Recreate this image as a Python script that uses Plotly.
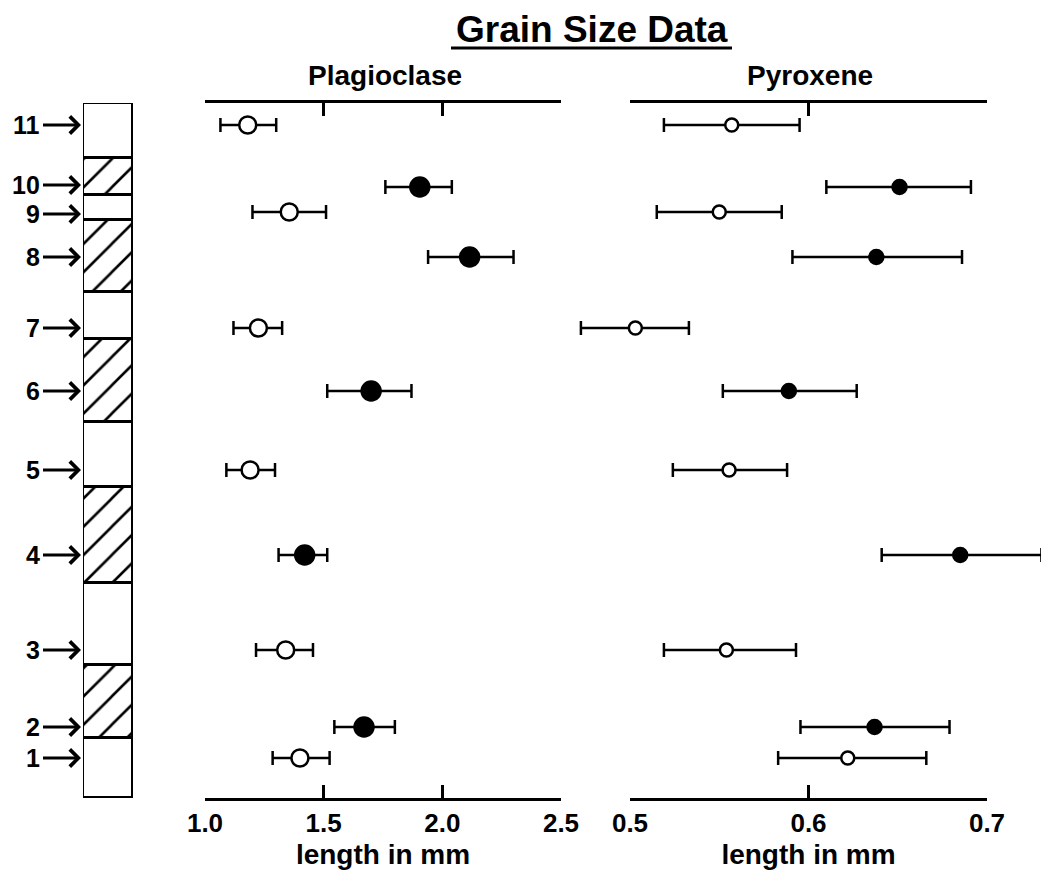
import plotly.graph_objects as go

# ---------------- data ----------------
samples = ["1", "2", "3", "4", "5", "6", "7", "8", "9", "10", "11"]
# stratigraphic position of each sample (arbitrary units above column base)
sample_height = [40, 71, 148, 243, 328, 407, 470, 541, 586, 611, 673]
# sample taken from a hatched layer -> filled symbol
sample_filled = [False, True, False, True, False, True, False, True, False, True, False]

plag_mean = [1.40, 1.67, 1.34, 1.42, 1.19, 1.70, 1.225, 2.115, 1.355, 1.905, 1.18]
plag_lo = [1.285, 1.545, 1.215, 1.31, 1.09, 1.515, 1.12, 1.94, 1.20, 1.76, 1.065]
plag_hi = [1.525, 1.80, 1.455, 1.515, 1.295, 1.87, 1.325, 2.30, 1.51, 2.04, 1.30]

pyx_mean = [0.622, 0.637, 0.554, 0.685, 0.5555, 0.589, 0.503, 0.638, 0.550, 0.651, 0.557]
pyx_lo = [0.583, 0.5955, 0.519, 0.641, 0.524, 0.552, 0.4725, 0.591, 0.515, 0.610, 0.519]
pyx_hi = [0.666, 0.679, 0.593, 0.7305, 0.588, 0.627, 0.533, 0.686, 0.585, 0.691, 0.595]

# stratigraphic column layers
layer_base = [0, 60, 133, 215, 311, 376, 459, 506, 578, 603, 640]
layer_top = [60, 133, 215, 311, 376, 459, 506, 578, 603, 640, 695]
layer_hatched = [False, True, False, True, False, True, False, True, False, True, False]

plag_ticks = [1.0, 1.5, 2.0, 2.5]
pyx_ticks = [0.5, 0.6, 0.7]

# ---------------- layout helpers ----------------
PAGE_W, PAGE_H = 1049, 878
OFF = 8  # default page body margin
W, H = PAGE_W - 2 * OFF, PAGE_H - 2 * OFF
FONT = "Liberation Sans, Arial, sans-serif"


def fx(p):
    return (p - OFF) / W


def fy(p):
    return 1 - (p - OFF) / H


col_bottom_px, col_top_px = 798, 103
y_range = [layer_base[0], layer_top[-1]]

fig = go.Figure()

# stratigraphic column as stacked bars with hatch patterns
fig.add_trace(go.Bar(
    x=[0] * len(layer_base),
    y=[t - b for b, t in zip(layer_base, layer_top)],
    base=layer_base,
    width=1,
    xaxis="x", yaxis="y",
    marker=dict(
        color="white", opacity=1,
        line=dict(color="black", width=3),
        pattern=dict(shape=["/" if h else "" for h in layer_hatched],
                     fgcolor="black", bgcolor="white", fgopacity=1,
                     size=20, solidity=0.13),
    ),
    showlegend=False, hoverinfo="skip",
))

colors = ["black" if f else "white" for f in sample_filled]

# plagioclase
fig.add_trace(go.Scatter(
    x=plag_mean, y=sample_height, mode="markers",
    xaxis="x2", yaxis="y",
    marker=dict(size=[19 if f else 17 for f in sample_filled], color=colors, opacity=1,
                line=dict(color="black", width=2.5)),
    error_x=dict(type="data", symmetric=False,
                 array=[h - m for h, m in zip(plag_hi, plag_mean)],
                 arrayminus=[m - l for m, l in zip(plag_mean, plag_lo)],
                 color="black", thickness=2.5, width=7),
    showlegend=False, cliponaxis=False,
))

# pyroxene (data axis wider than the drawn scale so bars can overhang)
fig.add_trace(go.Scatter(
    x=pyx_mean, y=sample_height, mode="markers",
    xaxis="x3", yaxis="y",
    marker=dict(size=[14 if f else 13 for f in sample_filled], color=colors, opacity=1,
                line=dict(color="black", width=2.5)),
    error_x=dict(type="data", symmetric=False,
                 array=[h - m for h, m in zip(pyx_hi, pyx_mean)],
                 arrayminus=[m - l for m, l in zip(pyx_mean, pyx_lo)],
                 color="black", thickness=2.5, width=7),
    showlegend=False, cliponaxis=False,
))
# dummy trace so the visible pyroxene scale axis is drawn
fig.add_trace(go.Scatter(x=[None], y=[None], xaxis="x4", yaxis="y",
                         mode="markers", showlegend=False, hoverinfo="skip"))

# pixel mapping for pyroxene data axis
p05, p07 = 630, 987
ppu = (p07 - p05) / (pyx_ticks[-1] - pyx_ticks[0])
d0, d1 = 560, PAGE_W - OFF
pyx_data_range = [pyx_ticks[0] - (p05 - d0) / ppu, pyx_ticks[-1] + (d1 - p07) / ppu]

scale_axis = dict(
    anchor="y", showline=True, linewidth=3, linecolor="black",
    mirror="ticks", ticks="inside", ticklen=13, tickwidth=3, tickcolor="black",
    showgrid=False, zeroline=False, automargin=False,
    tickfont=dict(family=FONT, size=26, color="black", weight="bold"),
    title=dict(text="<b>length in mm</b>", font=dict(family=FONT, size=28, color="black"),
               standoff=12),
)

fig.update_layout(
    width=W, height=H,
    margin=dict(l=0, r=0, t=0, b=0, pad=0, autoexpand=False),
    paper_bgcolor="white", plot_bgcolor="rgba(0,0,0,0)",
    barmode="overlay", bargap=0,
    xaxis=dict(domain=[fx(83), fx(133)], range=[-0.5, 0.5], visible=False,
               anchor="y", automargin=False),
    yaxis=dict(domain=[fy(col_bottom_px), fy(col_top_px)], range=y_range,
               visible=False, anchor="x", automargin=False),
    xaxis2=dict(domain=[fx(205), fx(561)], range=[plag_ticks[0], plag_ticks[-1]],
                tickvals=plag_ticks, ticktext=[f"{v:.1f}" for v in plag_ticks],
                **scale_axis),
    xaxis3=dict(domain=[fx(d0), fx(d1)], range=pyx_data_range, visible=False,
                anchor="y", automargin=False),
    xaxis4=dict(domain=[fx(p05), fx(p07)], range=[pyx_ticks[0], pyx_ticks[-1]],
                tickvals=pyx_ticks, ticktext=[f"{v:.1f}" for v in pyx_ticks],
                **scale_axis),
    font=dict(family=FONT, color="black"),
)

# titles
fig.add_annotation(text="<b>Grain Size Data</b>", x=fx(592), y=fy(29.5), xref="paper", yref="paper",
                   xanchor="center", yanchor="middle", showarrow=False, borderpad=0,
                   font=dict(family=FONT, size=37))
fig.add_shape(type="line", xref="paper", yref="paper", x0=fx(451), x1=fx(732),
              y0=fy(48), y1=fy(48), line=dict(color="black", width=3))
fig.add_annotation(text="<b>Plagioclase</b>", x=fx(385), y=fy(75), xref="paper", yref="paper",
                   xanchor="center", yanchor="middle", showarrow=False,
                   font=dict(family=FONT, size=28))
fig.add_annotation(text="<b>Pyroxene</b>", x=fx(810), y=fy(75), xref="paper", yref="paper",
                   xanchor="center", yanchor="middle", showarrow=False,
                   font=dict(family=FONT, size=28))

# sample labels with arrows pointing at the column (10 and 9 nudged apart slightly)
label_nudge = {"10": 2, "9": -2}
for s, h in zip(samples, sample_height):
    fig.add_annotation(text=f"<b>{s}</b>", x=fx(81), y=h, xref="paper", yref="y",
                       showarrow=True, ax=-40, ay=0, axref="pixel", ayref="pixel",
                       xanchor="right", yanchor="middle", borderpad=0,
                       yshift=label_nudge.get(s, 0),
                       arrowhead=4, arrowsize=1.1, arrowwidth=3, arrowcolor="black",
                       standoff=0, startstandoff=2,
                       font=dict(family=FONT, size=25))

fig.write_html("out.html")
